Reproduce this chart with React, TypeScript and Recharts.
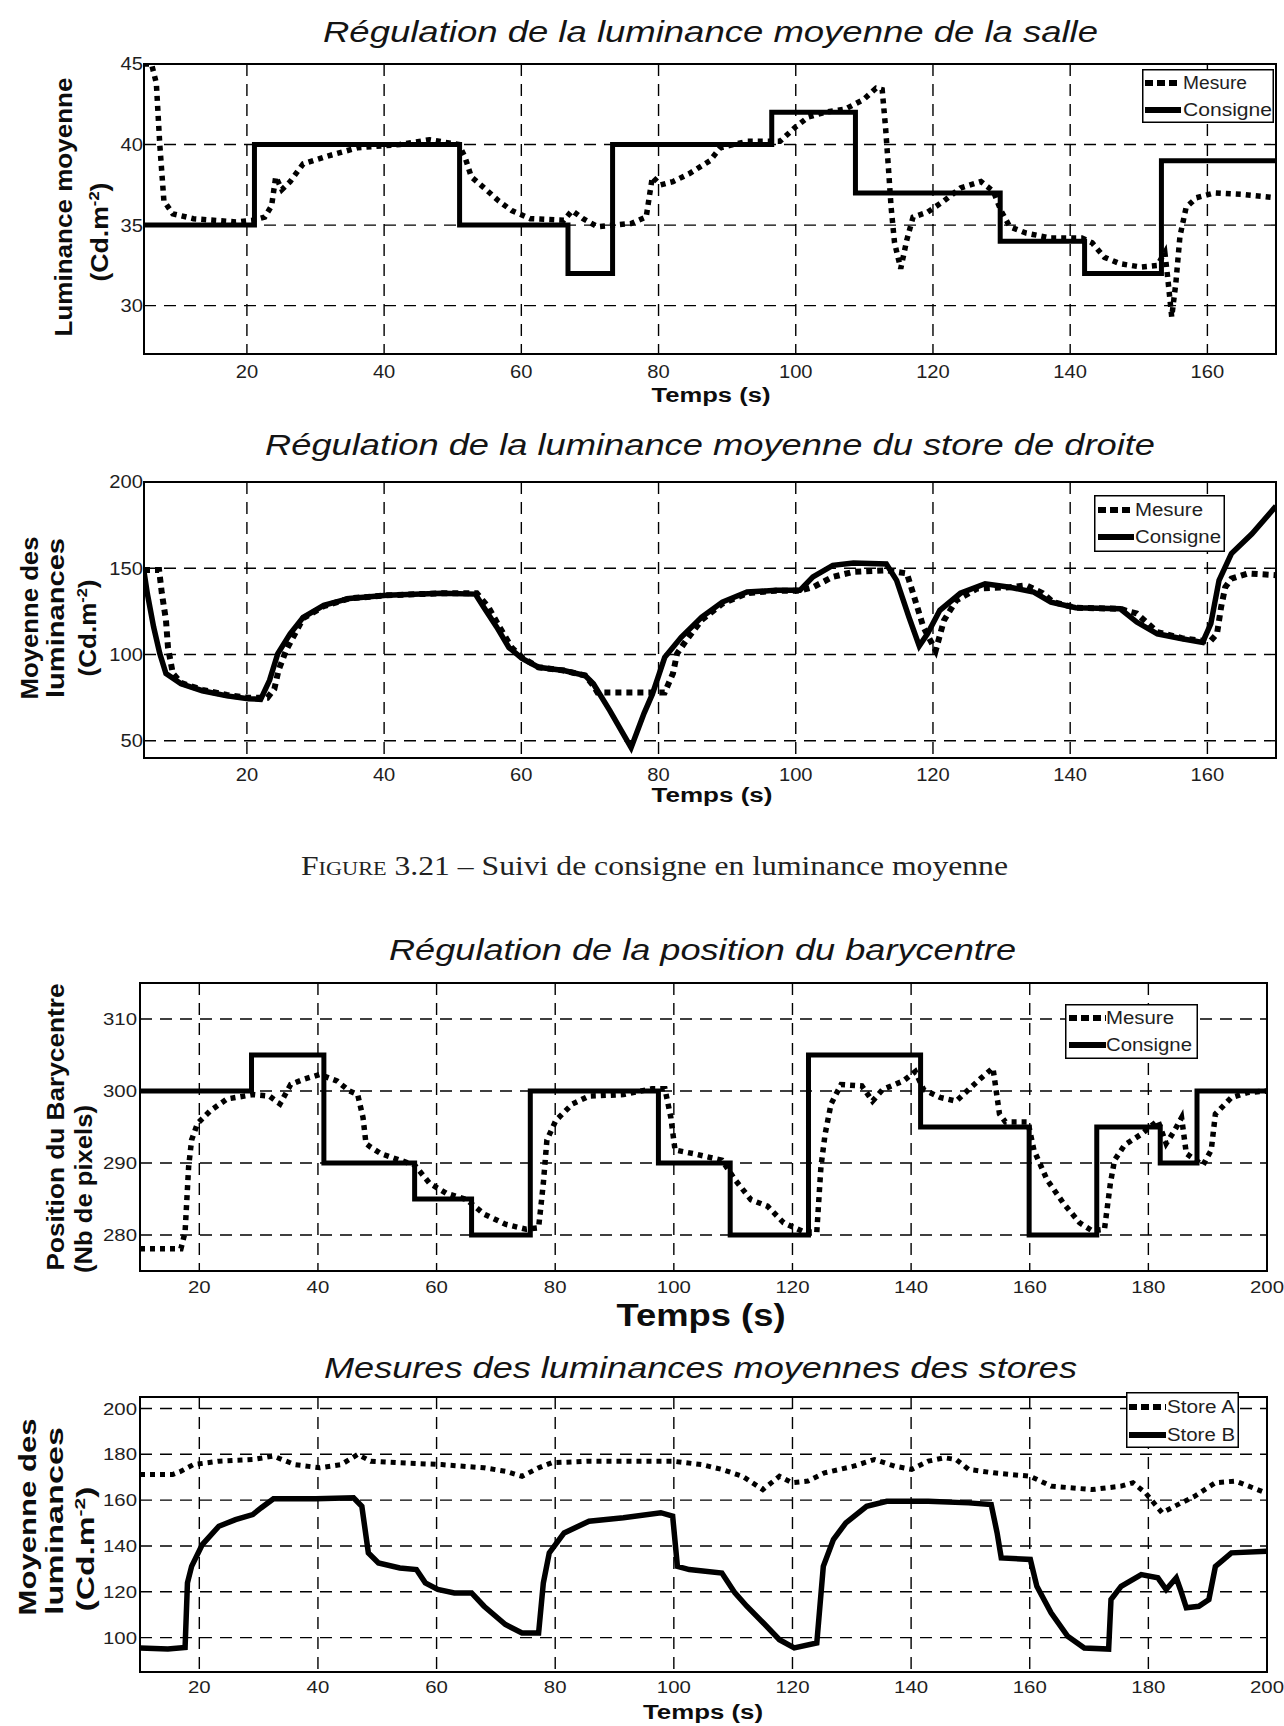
import React from 'react';
import { LineChart, Line, XAxis, YAxis, CartesianGrid, Legend, ReferenceArea } from 'recharts';

const SANS = "'Liberation Sans', Arial, sans-serif";
const INK = '#0d0d0d';

// ---- Régulation de la luminance moyenne de la salle ----
const salleTicksX = [20, 40, 60, 80, 100, 120, 140, 160];
const salleTicksY = [30, 35, 40, 45];
const salleConsigne: [number, number][] = [
  [5, 35], [21.1, 35], [21.1, 40], [51, 40], [51, 35], [66.8, 35], [66.8, 32], [73.3, 32], [73.3, 40],
  [96.5, 40], [96.5, 42], [108.7, 42], [108.7, 37], [129.8, 37], [129.8, 34], [142.1, 34], [142.1, 32],
  [153.3, 32], [153.3, 39], [170, 39],
];
const salleMesure: [number, number][] = [
  [5, 45], [6.1, 45], [6.8, 43.8], [7.3, 40], [7.9, 36.5], [9.2, 35.7], [12.2, 35.4], [18.4, 35.2],
  [20.8, 35.3], [22.6, 35.5], [23.6, 36.2], [24.2, 38], [25.1, 37.2], [26.3, 37.7], [28.2, 38.8],
  [31.9, 39.3], [36.1, 39.8], [42.3, 40], [46.6, 40.3], [50.9, 40], [51.8, 39.2], [52.7, 38], [54.6, 37.3],
  [56.7, 36.5], [58.6, 35.9], [61.3, 35.4], [66.2, 35.3], [67.4, 35.9], [69, 35.4], [71.1, 34.9],
  [76, 35.1], [78.2, 35.5], [79.1, 38], [80.3, 37.5], [82.1, 37.7], [84.5, 38.2], [87.5, 39], [89, 39.8],
  [92.9, 40.2], [97.7, 40.2], [100, 41.1], [101.8, 41.7], [104.2, 42], [107.2, 42.2], [109.9, 42.8],
  [111.7, 43.5], [112.6, 43.4], [113.1, 41], [113.5, 38.6], [113.9, 36.1], [114.4, 33.9], [115.3, 32.3],
  [116.2, 34.1], [117.1, 35.5], [119.2, 35.8], [121.6, 36.5], [124, 37.3], [127, 37.7], [128.8, 37.1],
  [129.9, 35.9], [131.2, 34.9], [133.6, 34.5], [137.2, 34.2], [141.7, 34.2], [143.2, 33.9], [145, 33],
  [147.3, 32.6], [150.3, 32.4], [152.7, 32.5], [153.8, 33.3], [154.2, 31.8], [154.8, 29.3], [155.4, 31.4],
  [156, 34.3], [156.9, 36.1], [158.4, 36.7], [161.1, 37], [165.3, 36.9], [170, 36.7],
];

// ---- Régulation de la luminance moyenne du store de droite ----
const droiteTicksY = [50, 100, 150, 200];
const droiteConsigne: [number, number][] = [
  [5, 148], [5.5, 135], [6.4, 116], [7.3, 100.5], [8.2, 89], [10.4, 83], [13.5, 79], [17.1, 76],
  [20.2, 74.4], [22, 74], [23.3, 85], [24.5, 100.5], [26.3, 112], [28.2, 121.5], [31.2, 128.5],
  [34.9, 132.5], [40.4, 134.3], [48.4, 135.5], [53.3, 135], [54.5, 127.5], [56.4, 116], [58.2, 104],
  [60.1, 97.7], [62.5, 92.6], [66.2, 90.7], [69.3, 87.8], [70.5, 83], [72.9, 67.5], [76, 46], [77.9, 66],
  [79.1, 77], [80.9, 98.4], [83.3, 110], [86.3, 121.7], [89.3, 130.4], [92.9, 136.2], [97.1, 137.2],
  [100.6, 137.2], [102.5, 145], [105.4, 151.7], [108.4, 153], [113.2, 152.5], [114.7, 143], [116.5, 121.7],
  [118, 105], [119.2, 112], [121, 125.6], [124, 135.5], [127.6, 141], [131.2, 139], [134.7, 136.2],
  [137.2, 130.4], [140.8, 127.1], [147.3, 126.5], [149.7, 118.8], [152.7, 112], [156.3, 109.1],
  [159.3, 107], [160.5, 117.8], [161.7, 143], [163.5, 158.5], [166.5, 170], [170, 186],
];
const droiteMesure: [number, number][] = [
  [5, 149], [7.2, 149], [7.6, 135.5], [8.2, 120], [8.5, 104], [9.2, 89], [10.4, 83.5], [13.5, 79.5],
  [17.1, 76.5], [20.2, 75], [23, 75], [24, 80], [24.6, 90.7], [25.7, 102.3], [27, 112], [28.2, 121],
  [31.2, 128], [34.9, 132.5], [40.4, 134.3], [48.4, 135.5], [53.5, 135.5], [55.2, 127.5], [56.8, 116],
  [58.6, 104], [60.3, 97.7], [62.5, 92.6], [66.2, 90.7], [69.3, 87.8], [70.5, 82], [71.1, 78], [80.9, 78],
  [82.1, 89], [82.7, 100.5], [84, 108], [86.3, 120], [89.3, 129.5], [92.9, 135.5], [97.1, 137],
  [100.6, 137], [102.5, 139], [105.4, 145], [108.4, 147.9], [113.2, 148.8], [116.2, 147], [117.1, 135.5],
  [118.6, 115.9], [120.4, 102.3], [121.6, 119.8], [123.4, 131.4], [126.4, 138.2], [131.2, 139],
  [133.6, 140.1], [136, 135.5], [137.5, 130.4], [140.8, 127.1], [147.3, 126.5], [148.5, 125],
  [149.7, 123.8], [152.7, 113], [156.3, 109.5], [160, 107.5], [160.5, 108], [161.4, 112], [162, 127.5],
  [162.6, 139], [163.5, 144], [165.9, 147], [170, 146],
];

// ---- Régulation de la position du barycentre ----
const baryTicksX = [20, 40, 60, 80, 100, 120, 140, 160, 180, 200];
const baryTicksY = [280, 290, 300, 310];
const baryConsigne: [number, number][] = [
  [10, 300], [28.8, 300], [28.8, 305], [41, 305], [41, 290], [56.3, 290], [56.3, 285], [65.9, 285],
  [65.9, 280], [75.8, 280], [75.8, 300], [97.4, 300], [97.4, 290], [109.5, 290], [109.5, 280],
  [122.7, 280], [122.7, 305], [141.6, 305], [141.6, 295], [159.9, 295], [159.9, 280], [171.3, 280],
  [171.3, 295], [182, 295], [182, 290], [188.2, 290], [188.2, 300], [200, 300],
];
const baryMesure: [number, number][] = [
  [10, 278.1], [16.9, 278.1], [17.6, 280.4], [18.2, 289.5], [18.7, 293.2], [19.7, 295.5], [21.9, 297.3],
  [24.7, 298.9], [29, 299.5], [31.8, 299.3], [33.6, 298.2], [35.4, 300.9], [37.5, 301.6], [40.3, 302.3],
  [43.2, 301.4], [45.3, 300], [46.7, 299.5], [47.6, 296.3], [48.1, 292.7], [48.9, 292.2], [50.6, 291.3],
  [53.8, 290.4], [56.3, 289.7], [58.8, 287.2], [61.6, 285.8], [65.1, 284.9], [68, 282.9], [71.6, 281.5],
  [75.1, 280.8], [77.2, 281], [78, 287.2], [78.6, 293.2], [80.1, 295.9], [82.9, 298.2], [85.7, 299.3],
  [91.5, 299.5], [96.3, 300.3], [98.5, 300.3], [99.5, 296.3], [100.2, 291.8], [103.3, 291.3],
  [108.1, 290.4], [110.3, 287.7], [113, 284.9], [115.8, 284], [118.5, 281.7], [122, 280.4],
  [124.1, 280.4], [124.8, 289.5], [125.5, 294], [126.5, 298.2], [128.2, 300.9], [131.7, 300.7],
  [133.5, 298.6], [135.2, 300.2], [138.7, 301.4], [140.7, 302.7], [142.1, 300.2], [144.9, 299.1],
  [147.6, 298.6], [149.7, 300.2], [151.8, 301.8], [153.8, 303.2], [154.9, 296.8], [155.9, 295.7],
  [159.7, 295.7], [160.7, 291.8], [162.9, 287.7], [165.6, 284.5], [168.4, 281.7], [170.5, 280.6],
  [172.6, 280.8], [173.6, 287.2], [174.3, 290.4], [176, 292.5], [178.8, 294], [181.6, 295.9], [183, 292.7],
  [184.4, 294.5], [185.6, 296.3], [186.4, 291.3], [189.2, 289.7], [190.6, 291.8], [191.3, 296.8],
  [194, 299.1], [196.8, 299.8], [200, 300],
];

// ---- Mesures des luminances moyennes des stores ----
const storesTicksY = [100, 120, 140, 160, 180, 200];
const storeA: [number, number][] = [
  [10, 171.2], [15.5, 171.2], [16.9, 172.6], [19, 175.5], [23.3, 177], [29, 177.7], [32.5, 179.2],
  [36.1, 175.5], [40.3, 174.1], [43.9, 175.5], [46.7, 179.9], [48.9, 177], [53.8, 176.3], [60.9, 175.5],
  [68, 174.1], [71.6, 172.6], [74.4, 170.4], [77.2, 174.1], [79.4, 176.3], [85.7, 177], [96.3, 177],
  [99.8, 177], [104.7, 175.5], [108.1, 173.4], [111.6, 170.4], [115, 164.6], [117.8, 170.4],
  [119.9, 167.6], [122.6, 168.3], [125.4, 171.9], [130.3, 174.8], [133.8, 177.7], [137.3, 174.8],
  [140.1, 173.4], [142.9, 177], [145.6, 178.5], [147.6, 177.7], [149.7, 173.4], [153.9, 171.9],
  [160.1, 170.4], [163.6, 166.1], [170.5, 164.6], [175.4, 166.1], [177.4, 167.6], [179.5, 163.2],
  [182.3, 154.5], [184.4, 157.3], [187.8, 161.7], [191.3, 167.6], [194.7, 168.3], [200, 163],
];
const storeB: [number, number][] = [
  [10, 95.5], [14.7, 95], [17.6, 95.7], [18, 123.9], [18.7, 131.1], [20.5, 140.6], [23.3, 148.6],
  [26.1, 151.5], [29, 153.7], [30.4, 156.6], [32.5, 160.6], [39.6, 160.6], [46, 161], [47.4, 157.3],
  [48.5, 137], [50.2, 132.6], [53.8, 130.4], [56.6, 129.7], [58.1, 123.9], [60.2, 121], [63, 119.5],
  [65.9, 119.5], [68, 113.7], [71.6, 105.7], [74.4, 102], [77.2, 102], [78, 123.9], [79, 137],
  [81.5, 145.7], [85.7, 150.8], [91.5, 152.3], [97.8, 154.5], [99.8, 153], [100.6, 131.1], [102.6, 129.7],
  [108.1, 128.2], [110.3, 119.5], [112.3, 113.7], [115.1, 106.4], [117.8, 99.1], [120.3, 95.5],
  [124.1, 97.7], [125.2, 131.1], [126.9, 142.8], [129, 150.1], [132.5, 157.3], [135.9, 159.5],
  [142.9, 159.5], [149.7, 158.8], [153.5, 158.1], [154.5, 145.7], [155.2, 134.8], [160.1, 134.1],
  [161.2, 122.4], [163.6, 110.8], [166.4, 100.6], [169.2, 95.5], [173.3, 95], [173.7, 116.6],
  [175.4, 122.4], [178.8, 127.5], [181.6, 126.1], [183, 121], [184.7, 126.1], [185.4, 121], [186.4, 113],
  [188.5, 113.7], [190.2, 116.6], [191.3, 131.1], [194, 137], [200, 137.7],
];

const toRows = (pts: [number, number][]) => pts.map(([t, v]) => ({ t, v }));

const xTick = (baseline: number, size: number, sx: number) => (props: any) => (
  <text
    transform={`translate(${props.x},${baseline}) scale(${sx},1)`}
    textAnchor="middle"
    fontSize={size}
    fontFamily={SANS}
    fill="#1e1e1e"
  >
    {props.payload.value}
  </text>
);

const yTick = (right: number, size: number, sx: number) => (props: any) => (
  <text
    transform={`translate(${right},${props.y}) scale(${sx},1)`}
    textAnchor="end"
    dy="0.36em"
    fontSize={size}
    fontFamily={SANS}
    fill="#1e1e1e"
  >
    {props.payload.value}
  </text>
);

interface LegendItem { name: string; dashed: boolean; len: number; }
interface LegendCfg { w: number; h: number; s0: number; s1: number; tx: number; rows: number[]; items: LegendItem[]; }

const makeLegend = (cfg: LegendCfg) => (props: any) => {
  const entries: any[] = props.payload || [];
  return (
    <svg width={cfg.w} height={cfg.h} style={{ display: 'block' }}>
      <rect x={0.75} y={0.75} width={cfg.w - 1.5} height={cfg.h - 1.5} fill="#fff" stroke="#000" strokeWidth={1.5} />
      {cfg.items.map((it, i) => {
        const e = entries.find((p) => p.value === it.name);
        const y = cfg.rows[i];
        return (
          <g key={it.name}>
            <line
              x1={cfg.s0} x2={cfg.s1} y1={y} y2={y}
              stroke={e ? e.color : '#000'}
              strokeWidth={6}
              strokeDasharray={it.dashed ? '8 4' : undefined}
            />
            <text x={cfg.tx} y={y} dy="0.36em" fontSize={18} fontFamily={SANS} fill="#1e1e1e"
              textLength={it.len} lengthAdjust="spacingAndGlyphs">
              {e ? e.value : it.name}
            </text>
          </g>
        );
      })}
    </svg>
  );
};

const title = (x: number, y: number, len: number, s: string) => (
  <text x={x} y={y} fontSize={29} fontStyle="italic" fontFamily={SANS} fill="#141414"
    textLength={len} lengthAdjust="spacingAndGlyphs">{s}</text>
);

const xLabel = (cx: number, y: number, len: number, size: number) => (
  <text x={cx} y={y} textAnchor="middle" fontSize={size} fontWeight="bold" fontFamily={SANS} fill={INK}
    textLength={len} lengthAdjust="spacingAndGlyphs">Temps (s)</text>
);

const yLabel = (bx: number, cy: number, len: number, s: string) => (
  <text transform={`translate(${bx},${cy}) rotate(-90)`} textAnchor="middle" fontSize={24} fontWeight="bold"
    fontFamily={SANS} fill={INK} textLength={len} lengthAdjust="spacingAndGlyphs">{s}</text>
);

const unitLabel = (bx: number, cy: number, len: number) => (
  <text transform={`translate(${bx},${cy}) rotate(-90)`} textAnchor="middle" fontSize={24} fontWeight="bold"
    fontFamily={SANS} fill={INK} textLength={len} lengthAdjust="spacingAndGlyphs">
    (Cd.m<tspan dy={-9} fontSize={15}>-2</tspan><tspan dy={9}>)</tspan>
  </text>
);

const gridProps = { stroke: '#000', strokeWidth: 1.4, strokeDasharray: '12 8' };

export default function App() {
  return (
    <div style={{ position: 'absolute', left: 0, top: 0, width: 1284, height: 1726, background: '#fff', overflow: 'hidden' }}>
      {/* salle */}
      <div style={{ position: 'absolute', left: 0, top: 0 }}>
        <LineChart width={1284} height={420} margin={{ top: 64, right: 8, bottom: 36, left: 0 }}>
          <CartesianGrid {...gridProps} />
          <XAxis type="number" dataKey="t" domain={[5, 170]} ticks={salleTicksX} allowDataOverflow
            axisLine={false} tickLine={false} height={30} tick={xTick(378, 18, 1.12)} />
          <YAxis type="number" dataKey="v" domain={[27, 45]} ticks={salleTicksY} allowDataOverflow
            axisLine={false} tickLine={false} width={144} tick={yTick(143, 18, 1.12)} />
          <ReferenceArea x1={5} x2={170} y1={27} y2={45} fill="none" stroke="#000" strokeWidth={2} />
          <Line data={toRows(salleMesure)} dataKey="v" name="Mesure" type="linear" stroke="#000" strokeWidth={5.5}
            strokeDasharray="5 5" dot={false} isAnimationActive={false} />
          <Line data={toRows(salleConsigne)} dataKey="v" name="Consigne" type="linear" stroke="#000" strokeWidth={5}
            dot={false} isAnimationActive={false} />
          <Legend layout="vertical" align="center" verticalAlign="middle"
            wrapperStyle={{ left: 1142, top: 69, width: 132, height: 54, lineHeight: 0 }}
            content={makeLegend({ w: 132, h: 54, s0: 3, s1: 39, tx: 41, rows: [14, 41],
              items: [{ name: 'Mesure', dashed: true, len: 64 }, { name: 'Consigne', dashed: false, len: 89 }] })} />
        </LineChart>
      </div>

      {/* store de droite */}
      <div style={{ position: 'absolute', left: 0, top: 420 }}>
        <LineChart width={1284} height={400} margin={{ top: 62, right: 8, bottom: 32, left: 0 }}>
          <CartesianGrid {...gridProps} />
          <XAxis type="number" dataKey="t" domain={[5, 170]} ticks={salleTicksX} allowDataOverflow
            axisLine={false} tickLine={false} height={30} tick={xTick(361, 18, 1.12)} />
          <YAxis type="number" dataKey="v" domain={[40, 200]} ticks={droiteTicksY} allowDataOverflow
            axisLine={false} tickLine={false} width={144} tick={yTick(143, 18, 1.12)} />
          <ReferenceArea x1={5} x2={170} y1={40} y2={200} fill="none" stroke="#000" strokeWidth={2} />
          <Line data={toRows(droiteMesure)} dataKey="v" name="Mesure" type="linear" stroke="#000" strokeWidth={6}
            strokeDasharray="6 5" dot={false} isAnimationActive={false} />
          <Line data={toRows(droiteConsigne)} dataKey="v" name="Consigne" type="linear" stroke="#000" strokeWidth={5.5}
            dot={false} isAnimationActive={false} />
          <Legend layout="vertical" align="center" verticalAlign="middle"
            wrapperStyle={{ left: 1094, top: 75, width: 131, height: 57, lineHeight: 0 }}
            content={makeLegend({ w: 131, h: 57, s0: 4, s1: 40, tx: 41, rows: [15, 42],
              items: [{ name: 'Mesure', dashed: true, len: 68 }, { name: 'Consigne', dashed: false, len: 86 }] })} />
        </LineChart>
      </div>

      {/* barycentre */}
      <div style={{ position: 'absolute', left: 0, top: 900 }}>
        <LineChart width={1284} height={420} margin={{ top: 83, right: 17, bottom: 19, left: 0 }}>
          <CartesianGrid {...gridProps} />
          <XAxis type="number" dataKey="t" domain={[10, 200]} ticks={baryTicksX} allowDataOverflow
            axisLine={false} tickLine={false} height={30} tick={xTick(393, 17, 1.2)} />
          <YAxis type="number" dataKey="v" domain={[275, 315]} ticks={baryTicksY} allowDataOverflow
            axisLine={false} tickLine={false} width={140} tick={yTick(137, 17, 1.2)} />
          <ReferenceArea x1={10} x2={200} y1={275} y2={315} fill="none" stroke="#000" strokeWidth={2} />
          <Line data={toRows(baryMesure)} dataKey="v" name="Mesure" type="linear" stroke="#000" strokeWidth={5.5}
            strokeDasharray="5 5" dot={false} isAnimationActive={false} />
          <Line data={toRows(baryConsigne)} dataKey="v" name="Consigne" type="linear" stroke="#000" strokeWidth={5}
            dot={false} isAnimationActive={false} />
          <Legend layout="vertical" align="center" verticalAlign="middle"
            wrapperStyle={{ left: 1065, top: 104, width: 133, height: 55, lineHeight: 0 }}
            content={makeLegend({ w: 133, h: 55, s0: 4, s1: 41, tx: 41, rows: [14, 41],
              items: [{ name: 'Mesure', dashed: true, len: 68 }, { name: 'Consigne', dashed: false, len: 86 }] })} />
        </LineChart>
      </div>

      {/* stores */}
      <div style={{ position: 'absolute', left: 0, top: 1340 }}>
        <LineChart width={1284} height={386} margin={{ top: 57, right: 17, bottom: 24, left: 0 }}>
          <CartesianGrid {...gridProps} />
          <XAxis type="number" dataKey="t" domain={[10, 200]} ticks={baryTicksX} allowDataOverflow
            axisLine={false} tickLine={false} height={30} tick={xTick(353, 17, 1.2)} />
          <YAxis type="number" dataKey="v" domain={[85, 205]} ticks={storesTicksY} allowDataOverflow
            axisLine={false} tickLine={false} width={140} tick={yTick(137, 17, 1.2)} />
          <ReferenceArea x1={10} x2={200} y1={85} y2={205} fill="none" stroke="#000" strokeWidth={2} />
          <Line data={toRows(storeA)} dataKey="v" name="Store A" type="linear" stroke="#000" strokeWidth={5}
            strokeDasharray="5 5" dot={false} isAnimationActive={false} />
          <Line data={toRows(storeB)} dataKey="v" name="Store B" type="linear" stroke="#000" strokeWidth={5.5}
            dot={false} isAnimationActive={false} />
          <Legend layout="vertical" align="center" verticalAlign="middle"
            wrapperStyle={{ left: 1126, top: 52, width: 113, height: 56, lineHeight: 0 }}
            content={makeLegend({ w: 113, h: 56, s0: 3, s1: 40, tx: 41, rows: [15, 43],
              items: [{ name: 'Store A', dashed: true, len: 68 }, { name: 'Store B', dashed: false, len: 68 }] })} />
        </LineChart>
      </div>

      {/* titles, axis labels, caption */}
      <svg width={1284} height={1726} style={{ position: 'absolute', left: 0, top: 0, pointerEvents: 'none' }}>
        {title(323, 42, 775, 'Régulation de la luminance moyenne de la salle')}
        {title(265, 455, 890, 'Régulation de la luminance moyenne du store de droite')}
        {title(389, 960, 627, 'Régulation de la position du barycentre')}
        {title(324, 1378, 753, 'Mesures des luminances moyennes des stores')}

        {xLabel(711, 402, 119, 20)}
        {xLabel(712, 802, 121, 20)}
        {xLabel(701, 1326, 169, 31)}
        {xLabel(703, 1719, 120, 20)}

        {yLabel(72, 207, 259, 'Luminance moyenne')}
        {unitLabel(108, 232, 99)}

        {yLabel(38, 618, 163, 'Moyenne des')}
        {yLabel(64, 618, 160, 'luminances')}
        {unitLabel(96, 628, 97)}

        {yLabel(64, 1127, 287, 'Position du Barycentre')}
        {yLabel(92, 1189, 168, '(Nb de pixels)')}

        {yLabel(36, 1517, 197, 'Moyenne des')}
        {yLabel(63, 1521, 188, 'luminances')}
        {unitLabel(94, 1549, 125)}

        <text x={301} y={875} fontSize={27} fontFamily="'Liberation Serif', 'DejaVu Serif', serif" fill="#222"
          textLength={707} lengthAdjust="spacingAndGlyphs">
          <tspan style={{ fontVariant: 'small-caps' }}>Figure</tspan> 3.21 – Suivi de consigne en luminance moyenne
        </text>
      </svg>
    </div>
  );
}
